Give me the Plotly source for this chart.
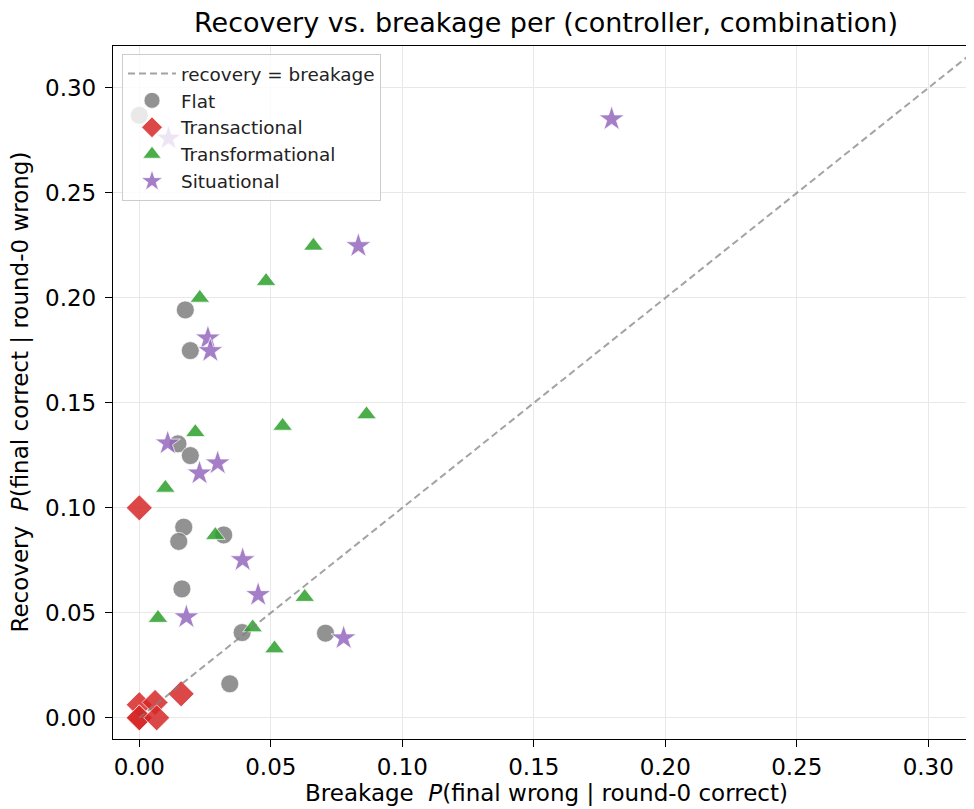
import plotly.graph_objects as go

# ---- data ----
flat_x = [0.0, 0.0175, 0.0194, 0.0147, 0.0194, 0.0169, 0.0150, 0.0321, 0.0162, 0.0391, 0.0708, 0.0344]
flat_y = [0.287, 0.1943, 0.1749, 0.1305, 0.1249, 0.0908, 0.0840, 0.0871, 0.0614, 0.0406, 0.0403, 0.0162]

trans_x = [0.0, 0.0159, 0.0, 0.0060, 0.0, 0.0, 0.0066]
trans_y = [0.100, 0.0114, 0.0062, 0.0073, 0.0, 0.0, 0.0]

transf_x = [0.0662, 0.0482, 0.0230, 0.0864, 0.0545, 0.0213, 0.0099, 0.0289, 0.0629, 0.0071, 0.0431, 0.0514]
transf_y = [0.2248, 0.2080, 0.2000, 0.1445, 0.1390, 0.1360, 0.1095, 0.0870, 0.0575, 0.0475, 0.0430, 0.0330]

sit_x = [0.1796, 0.0833, 0.0111, 0.0261, 0.0270, 0.0108, 0.0298, 0.0229, 0.0393, 0.0452, 0.0179, 0.0777]
sit_y = [0.2852, 0.2248, 0.2760, 0.1808, 0.1748, 0.1308, 0.1213, 0.1165, 0.0752, 0.0586, 0.0480, 0.0380]

diag = [0.0, 0.33]
tick_vals = [0.0, 0.05, 0.10, 0.15, 0.20, 0.25, 0.30]
tick_text = ["0.00", "0.05", "0.10", "0.15", "0.20", "0.25", "0.30"]

FONT = "DejaVu Sans"
fig = go.Figure()

groups = [
    ("Flat", flat_x, flat_y, "circle", 18, "rgba(127,127,127,0.85)"),
    ("Transactional", trans_x, trans_y, "diamond", 20, "rgba(214,39,40,0.85)"),
    ("Transformational", transf_x, transf_y, "triangle-up", 17, "rgba(44,160,44,0.85)"),
    ("Situational", sit_x, sit_y, "star", 19, "rgba(148,103,189,0.85)"),
]
for i, (name, xs, ys, sym, size, col) in enumerate(groups):
    fig.add_trace(go.Scatter(
        x=xs, y=ys, mode="markers", name=name, legendrank=i + 2,
        marker=dict(symbol=sym, size=size, color=col, line=dict(color="white", width=0.7)),
    ))

fig.add_trace(go.Scatter(
    x=diag, y=diag, mode="lines", name="recovery = breakage", legendrank=1,
    line=dict(color="rgba(128,128,128,0.72)", width=2, dash="7px,4px"),
))

# page body has an 8px margin: figure coordinates = window coordinates - 8
W, H = 966, 801
L, R, T = 105, 1, 38
PW, PH = W - L - R, 693
B = H - T - PH
fig.update_layout(
    width=W, height=H,
    margin=dict(l=L, r=R, t=T, b=B, pad=0),
    paper_bgcolor="white", plot_bgcolor="white",
    font=dict(family=FONT, color="black", size=23),
    showlegend=True,
    legend=dict(
        x=(114 - L) / PW, y=1 - (46 - T) / PH, xanchor="left", yanchor="top",
        bgcolor="rgba(255,255,255,0.8)", bordercolor="#cccccc", borderwidth=1,
        font=dict(family=FONT, size=18.4, color="#222222"),
        itemwidth=48, traceorder="normal",
    ),
    xaxis=dict(
        range=[-0.0100, 0.3170], tickvals=tick_vals, ticktext=tick_text,
        showgrid=True, gridcolor="#e8e8e8", gridwidth=1.2, zeroline=False,
        showline=True, linecolor="black", linewidth=1.3, mirror=True,
        ticks="outside", ticklen=7, tickwidth=1.3, tickcolor="black",
        tickfont=dict(family=FONT, size=23, color="black"),
    ),
    yaxis=dict(
        range=[-0.0101, 0.3200], tickvals=tick_vals, ticktext=tick_text,
        showgrid=True, gridcolor="#e8e8e8", gridwidth=1.2, zeroline=False,
        showline=True, linecolor="black", linewidth=1.3, mirror=False,
        ticks="outside", ticklen=7, tickwidth=1.3, tickcolor="black",
        tickfont=dict(family=FONT, size=23, color="black"),
        ticklabelstandoff=4,
    ),
    annotations=[
        dict(text="Recovery vs. breakage per (controller, combination)",
             xref="paper", yref="paper", x=(538 - L) / PW, y=1 + (T - 14) / PH,
             xanchor="center", yanchor="middle", showarrow=False,
             font=dict(family=FONT, size=27, color="black")),
        dict(text="Breakage  <i>P</i>(final wrong | round-0 correct)",
             xref="paper", yref="paper", x=(538 - L) / PW, y=-(785 - (T + PH)) / PH,
             xanchor="center", yanchor="middle", showarrow=False,
             font=dict(family=FONT, size=23, color="black")),
        dict(text="Recovery  <i>P</i>(final correct | round-0 wrong)",
             xref="paper", yref="paper", x=-(L - 11) / PW, y=0.5,
             xanchor="center", yanchor="middle", showarrow=False, textangle=-90,
             font=dict(family=FONT, size=23, color="black")),
    ],
)

fig.write_html("out.html")
